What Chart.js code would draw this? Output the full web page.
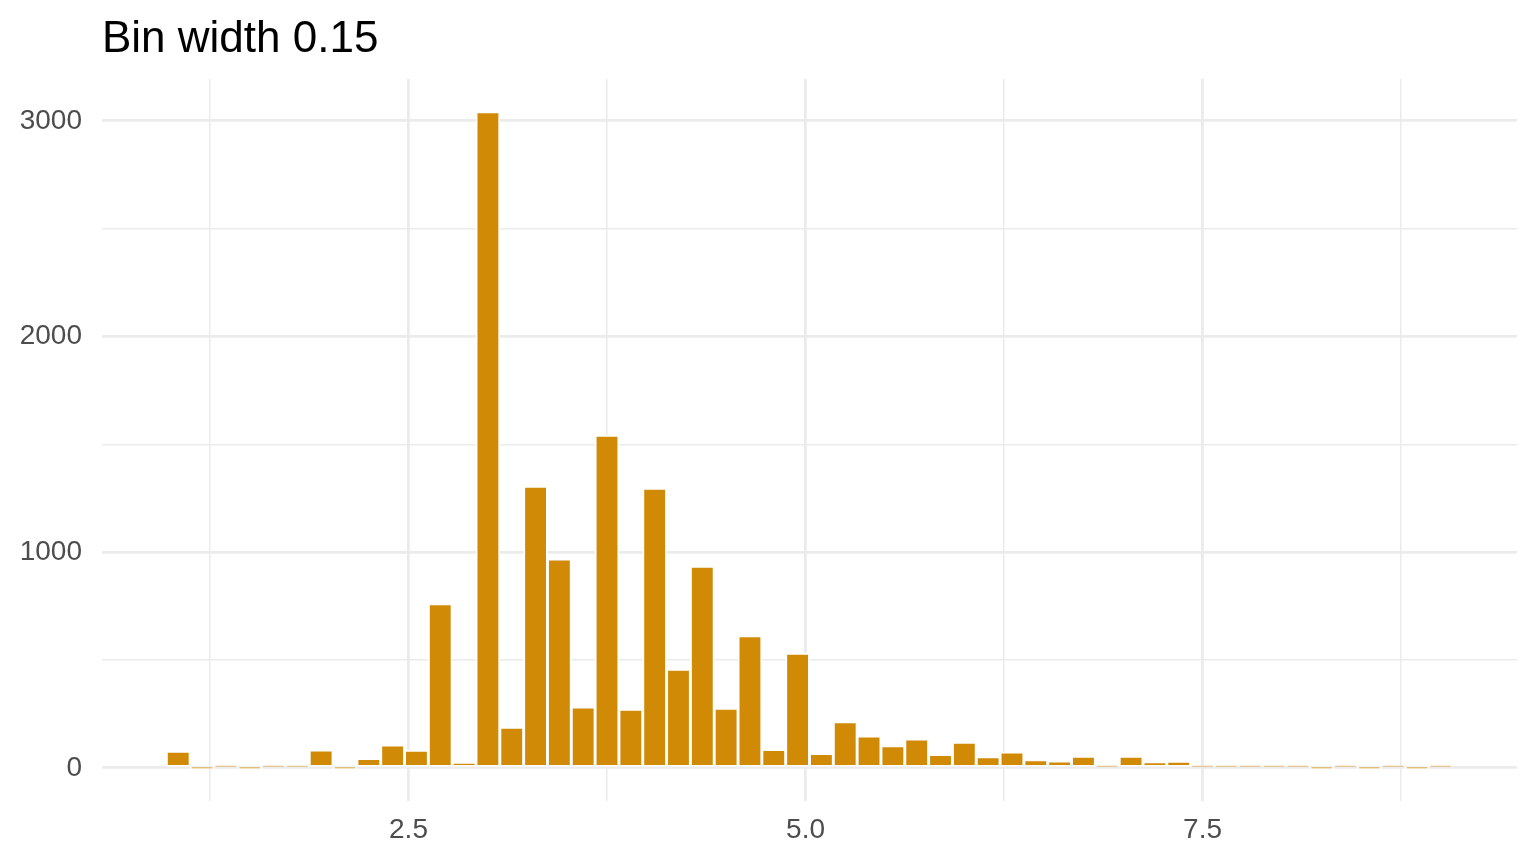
<!DOCTYPE html>
<html>
<head>
<meta charset="utf-8">
<title>Bin width 0.15</title>
<script src="https://cdn.jsdelivr.net/npm/chart.js@4"></script>
<style>
    html, body { margin: 0; padding: 0; background: #ffffff; }
    #wrap { width: 1536px; height: 864px; }
</style>
</head>
<body>
<div id="wrap"><canvas id="hist" width="1536" height="864"></canvas></div>
<script>
const titleText = 'Bin width 0.15';

const binCenters = [
    1.05, 1.2, 1.35, 1.5, 1.65, 1.8, 1.95, 2.1, 2.25, 2.4, 2.55, 2.7, 2.85,
    3.0, 3.15, 3.3, 3.45, 3.6, 3.75, 3.9, 4.05, 4.2, 4.35, 4.5, 4.65, 4.8, 4.95,
    5.1, 5.25, 5.4, 5.55, 5.7, 5.85, 6.0, 6.15, 6.3, 6.45, 6.6, 6.75, 6.9,
    7.05, 7.2, 7.35, 7.5, 7.65, 7.8, 7.95, 8.1, 8.25, 8.4, 8.55, 8.7, 8.85, 9.0
];
const binCounts = [
    77, 0, 1, 0, 1, 2, 83, 0, 43, 106, 82, 761, 26,
    3042, 188, 1306, 968, 282, 1542, 272, 1296, 457, 935, 276, 613, 85, 531,
    67, 214, 148, 103, 134, 62, 119, 52, 73, 38, 32, 54, 10,
    54, 28, 31, 4, 3, 2, 1, 1, 0, 1, 0, 1, 0, 1
];

const xMajorTicks = [2.5, 5.0, 7.5];
const xMinorTicks = [1.25, 3.75, 6.25, 8.75];
const xTickLabels = ['2.5', '5.0', '7.5'];
const yMajorTicks = [0, 1000, 2000, 3000];
const yMinorTicks = [500, 1500, 2500];
const yTickLabels = ['0', '1000', '2000', '3000'];

document.addEventListener('DOMContentLoaded', () => {
    const canvas = document.getElementById('hist');
    const fontFamily = "'Liberation Sans', Arial, Helvetica, sans-serif";
    const gridColor = '#EBEBEB';

    // title sits over the panel's left edge, like ggplot's plot.title
    const leftTitle = {
        id: 'leftTitle',
        afterDraw(chart) {
            const ctx = chart.ctx;
            ctx.save();
            ctx.font = `44px ${fontFamily}`;
            ctx.fillStyle = '#000000';
            ctx.textAlign = 'left';
            ctx.textBaseline = 'alphabetic';
            ctx.fillText(titleText, chart.chartArea.left, 52);
            ctx.restore();
        }
    };

    const points = binCenters.map((x, i) => ({ x: x, y: binCounts[i] }));

    const xAll = xMinorTicks.concat(xMajorTicks).sort((a, b) => a - b);
    const yAll = yMinorTicks.concat(yMajorTicks).sort((a, b) => a - b);

    new Chart(canvas, {
        type: 'bar',
        data: {
            datasets: [{
                data: points,
                backgroundColor: '#D18A06',
                borderColor: '#ffffff',
                borderWidth: 1.8,
                borderSkipped: false,
                minBarLength: 2,
                barPercentage: 1,
                categoryPercentage: 1
            }]
        },
        options: {
            responsive: false,
            animation: false,
            devicePixelRatio: 1,
            layout: { padding: { top: 79, right: 19, bottom: 0, left: 0 } },
            plugins: {
                legend: { display: false },
                title: { display: false },
                tooltip: { enabled: false }
            },
            scales: {
                x: {
                    type: 'linear',
                    min: 0.57,
                    max: 9.48,
                    offset: false,
                    afterBuildTicks: (s) => { s.ticks = xAll.map(v => ({ value: v })); },
                    afterFit: (s) => { s.height = 63.3; },
                    border: { display: false },
                    grid: {
                        offset: false,
                        drawTicks: false,
                        color: gridColor,
                        lineWidth: (c) => (c.tick && xMajorTicks.includes(c.tick.value)) ? 2.8 : 1.5
                    },
                    ticks: {
                        autoSkip: false,
                        maxRotation: 0,
                        padding: 13,
                        color: '#4D4D4D',
                        font: { family: fontFamily, size: 28 },
                        callback: (v) => {
                            const i = xMajorTicks.indexOf(v);
                            return i >= 0 ? xTickLabels[i] : '';
                        }
                    }
                },
                y: {
                    min: -152.1,
                    max: 3194.1,
                    afterBuildTicks: (s) => { s.ticks = yAll.map(v => ({ value: v })); },
                    afterFit: (s) => { s.width = 102; },
                    border: { display: false },
                    grid: {
                        drawTicks: false,
                        color: gridColor,
                        lineWidth: (c) => (c.tick && yMajorTicks.includes(c.tick.value)) ? 2.8 : 1.5
                    },
                    ticks: {
                        autoSkip: false,
                        padding: 20,
                        color: '#4D4D4D',
                        font: { family: fontFamily, size: 28 },
                        callback: (v) => {
                            const i = yMajorTicks.indexOf(v);
                            return i >= 0 ? yTickLabels[i] : '';
                        }
                    }
                }
            }
        },
        plugins: [leftTitle]
    });
});
</script>
</body>
</html>
